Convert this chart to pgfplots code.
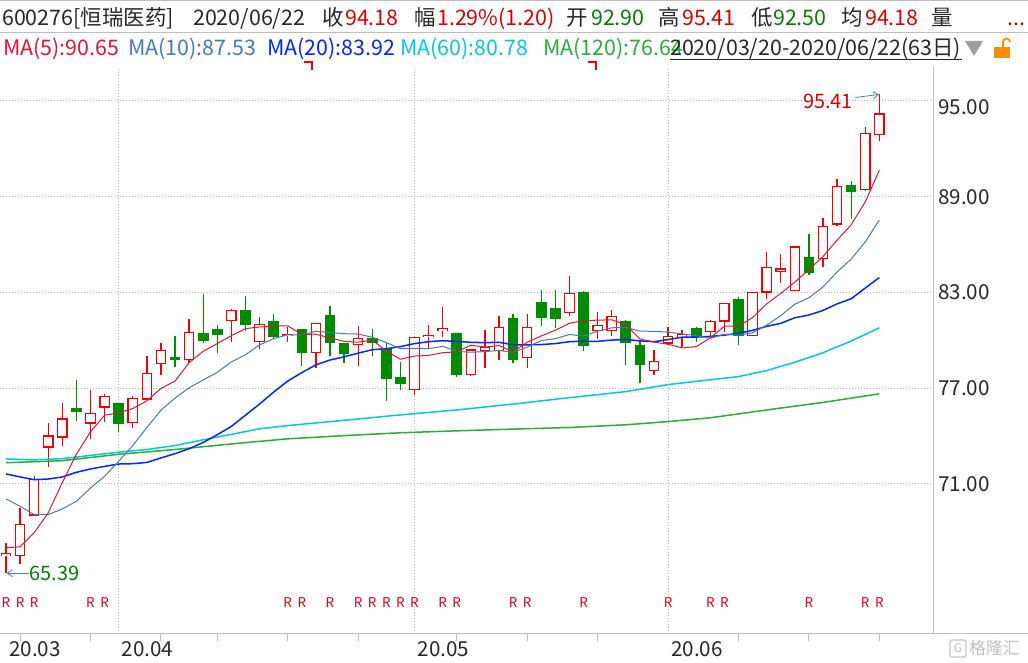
\documentclass[border=0pt]{standalone}
\usepackage{pgfplots}
\pgfplotsset{compat=1.18}
\usepackage{pgfplotstable}
\usepackage{fontspec}
\setmainfont{Noto Sans CJK SC}
\usetikzlibrary{arrows.meta}

\definecolor{cUp}{RGB}{245,0,0}
\definecolor{cDown}{RGB}{0,140,0}
\definecolor{cMAfive}{RGB}{225,20,60}
\definecolor{cMAten}{RGB}{65,125,180}
\definecolor{cMAtwenty}{RGB}{0,40,250}
\definecolor{cMAsixty}{RGB}{0,200,230}
\definecolor{cMAonetwenty}{RGB}{40,175,55}
\definecolor{cAxis}{RGB}{190,190,190}
\definecolor{cGrid}{RGB}{185,185,185}
\definecolor{cText}{RGB}{40,40,40}
\definecolor{cRed}{RGB}{215,0,0}
\definecolor{cGreen}{RGB}{0,128,0}
\definecolor{cArrow}{RGB}{60,140,170}
\definecolor{cR}{RGB}{215,0,20}

\newcommand\hf{\fontsize{21.5}{25}\selectfont}
\newcommand\af{\fontsize{20}{24}\selectfont}
\newcommand\lf{\fontsize{20.7}{24}\selectfont}
\newcommand\rf{\fontsize{13.5}{15}\selectfont}

% rising candles: index, open, high, low, close
\pgfplotstableread{
i O H L C
0 66.49 67.32 65.39 66.63
1 66.49 69.47 65.95 68.43
2 69.05 71.47 69.05 71.26
3 73.31 74.81 72.06 74.00
4 73.93 76.06 73.34 75.06
6 74.81 76.89 73.81 75.43
7 75.81 76.64 74.85 76.47
9 74.85 76.51 74.53 76.37
10 76.31 79.02 76.25 77.93
11 78.56 79.83 77.85 79.37
13 78.77 81.33 78.56 80.50
16 81.25 81.94 79.91 81.87
18 79.94 81.46 79.47 81.00
20 80.29 80.85 79.87 80.37
22 79.25 81.06 78.28 81.06
25 79.75 80.89 78.41 80.12
29 76.93 80.19 76.58 80.19
30 80.22 80.95 79.50 80.31
31 80.60 82.08 80.19 80.72
33 77.87 79.45 77.78 79.39
34 79.37 80.64 78.28 79.56
35 79.35 81.52 78.77 80.81
37 78.91 81.64 78.28 80.81
40 81.75 84.04 81.54 82.94
42 80.62 81.77 80.08 80.94
43 80.62 81.89 80.29 81.50
46 78.12 79.39 77.85 78.68
47 79.83 80.83 79.70 80.25
48 80.22 80.64 79.56 80.37
50 80.56 81.27 80.12 81.19
51 81.21 82.32 80.50 82.32
53 80.31 83.00 80.31 83.00
54 83.02 85.53 82.61 84.57
55 84.34 85.41 83.61 84.47
56 83.13 85.93 83.13 85.85
58 85.14 87.66 84.61 87.14
59 87.29 90.11 87.16 89.65
61 89.46 93.35 89.38 92.98
62 92.90 95.41 92.50 94.18
}\upc

% falling candles
\pgfplotstableread{
i O H L C
5 75.70 77.52 74.91 75.53
8 76.01 76.06 74.22 74.78
12 78.89 80.27 78.35 78.77
14 80.44 82.89 79.81 79.97
15 80.64 80.95 79.22 80.35
17 81.89 82.77 80.58 80.97
19 81.14 81.64 80.12 80.27
21 80.64 80.70 78.41 79.22
23 81.52 82.14 79.03 79.85
24 79.81 79.81 78.58 79.16
26 80.12 80.69 79.03 79.87
27 79.47 79.83 76.22 77.60
28 77.64 78.66 76.91 77.28
32 80.39 80.47 77.68 77.85
36 81.33 81.64 78.60 78.78
38 82.33 83.14 80.91 81.41
39 81.96 83.14 80.75 81.35
41 82.96 83.06 79.35 79.66
44 81.14 81.27 78.45 79.85
45 79.69 79.97 77.35 78.47
49 80.71 80.81 79.91 80.25
52 82.52 82.73 79.70 80.33
57 85.16 86.66 84.09 84.24
60 89.67 89.98 87.62 89.34
}\downc

% moving averages 5, 10, 20
\pgfplotstableread{
i ma5 ma10 ma20
0 66.99 70.05 71.62
1 67.05 69.59 71.43
2 67.93 69.07 71.26
3 69.18 69.07 71.30
4 71.08 69.43 71.43
5 72.86 69.90 71.72
6 74.26 70.74 71.93
7 75.30 71.47 72.09
8 75.45 72.41 72.24
9 75.72 73.40 72.26
10 76.20 74.53 72.34
11 76.98 75.62 72.62
12 77.44 76.37 72.89
13 78.59 77.02 73.20
14 79.31 77.51 73.59
15 79.79 77.99 74.08
16 80.29 78.64 74.60
17 80.73 79.09 75.30
18 80.83 79.71 76.00
19 80.89 80.10 76.75
20 80.90 80.34 77.44
21 80.37 80.33 77.97
22 80.38 80.56 78.46
23 80.15 80.49 78.76
24 79.93 80.41 78.96
25 79.88 80.39 79.19
26 80.01 80.19 79.41
27 79.32 79.85 79.47
28 78.81 79.48 79.60
29 79.01 79.47 79.79
30 79.05 79.47 79.91
31 79.22 79.62 79.97
32 79.27 79.30 79.93
33 79.69 79.25 79.87
34 79.57 79.29 79.85
35 79.67 79.36 79.87
36 79.28 79.25 79.72
37 79.87 79.57 79.71
38 80.27 79.98 79.73
39 80.63 80.10 79.79
40 81.06 80.36 79.91
41 81.23 80.26 79.94
42 81.26 80.57 79.93
43 81.28 80.78 80.01
44 80.98 80.81 80.05
45 80.08 80.57 79.96
46 79.89 80.56 79.91
47 79.75 80.51 80.04
48 79.52 80.40 80.19
49 79.60 80.29 80.20
50 80.15 80.12 80.24
51 80.88 80.38 80.32
52 80.89 80.32 80.44
53 81.42 80.47 80.62
54 82.28 80.94 80.87
55 82.94 81.54 81.06
56 83.64 82.26 81.41
57 84.43 82.66 81.58
58 85.25 83.34 81.87
59 86.27 84.28 82.28
60 87.24 85.09 82.60
61 88.67 86.16 83.27
62 90.66 87.54 83.93
}\ma

\pgfplotstableread{
i v
0 72.56
2 72.50
4 72.58
6 72.78
8 72.98
10 73.15
12 73.40
14 73.76
16 74.10
18 74.45
20 74.65
24 74.98
28 75.32
32 75.63
36 76.00
40 76.40
44 76.78
47 77.22
50 77.52
52 77.72
54 78.10
56 78.62
58 79.22
60 79.95
62 80.78
}\masixty

\pgfplotstableread{
i v
0 72.32
4 72.45
8 72.85
12 73.15
16 73.50
20 73.82
24 74.02
28 74.20
32 74.32
36 74.43
40 74.53
44 74.70
47 74.90
50 75.14
52 75.38
55 75.75
58 76.10
62 76.64
}\maonetwenty

% R markers
\pgfplotstableread{
i y
0 63.53
1 63.53
2 63.53
6 63.53
7 63.53
20 63.53
21 63.53
23 63.53
25 63.53
26 63.53
27 63.53
28 63.53
29 63.53
31 63.53
32 63.53
36 63.53
37 63.53
41 63.53
47 63.53
50 63.53
51 63.53
57 63.53
61 63.53
62 63.53
}\rtab

\pgfplotsset{
  candlebar/.style n args={2}{draw=none, mark=none, forget plot,
    error bars/.cd, y dir=both, y explicit, error mark=none,
    error bar style={solid, line width=#1, draw=#2}},
}

\begin{document}
\begin{tikzpicture}
\path[use as bounding box, fill=white] (0,0) rectangle (1028bp,663bp);
\begin{axis}[
  at={(0bp,29bp)}, anchor=south west,
  scale only axis, width=933bp, height=567bp,
  xmin=-0.426, xmax=65.81, ymin=61.583, ymax=97.132,
  axis x line*=bottom, axis y line*=right,
  axis line style={draw=cAxis, line width=1bp, -},
  xtick={8,29,47}, xticklabels={20.04,20.05,20.06},
  extra x ticks={0}, extra x tick labels={20.03},
  extra x tick style={grid=none},
  minor xtick={1,6,11,15,20,25,32,37,42,52,57,62},
  ytick={71,77,83,89}, yticklabels={71.00,77.00,83.00,89.00},
  extra y ticks={95}, extra y tick labels={95.00},
  extra y tick style={grid=major, yticklabel style={yshift=-6bp}},
  major tick length=0pt, minor tick length=7bp, tick align=outside,
  tick style={draw=cAxis, line width=1bp},
  xmajorgrids, ymajorgrids,
  major grid style={draw=cGrid, line width=1bp, dash pattern=on 1bp off 2bp},
  xticklabel style={anchor=north west, inner sep=0pt, xshift=3bp, yshift=-7.5bp, font=\lf, text=cText},
  yticklabel style={anchor=west, inner sep=0pt, xshift=5bp, font=\lf, text=cText},
]
% wicks
\addplot[candlebar={1.3bp}{cUp}]
  table[x=i, y expr={(\thisrow{H}+\thisrow{L})/2}, y error expr={(\thisrow{H}-\thisrow{L})/2}] {\upc};
\addplot[candlebar={1.3bp}{cDown}]
  table[x=i, y expr={(\thisrow{H}+\thisrow{L})/2}, y error expr={(\thisrow{H}-\thisrow{L})/2}] {\downc};
% rising bodies: red outline, white inside
\addplot[candlebar={10.6bp}{cUp}]
  table[x=i, y expr={(\thisrow{O}+\thisrow{C})/2}, y error expr={(\thisrow{C}-\thisrow{O})/2+0.038}] {\upc};
\addplot[candlebar={8.2bp}{white}]
  table[x=i, y expr={(\thisrow{O}+\thisrow{C})/2}, y error expr={max((\thisrow{C}-\thisrow{O})/2-0.038,0)}] {\upc};
% falling bodies: solid green
\addplot[candlebar={10.6bp}{cDown}]
  table[x=i, y expr={(\thisrow{O}+\thisrow{C})/2}, y error expr={(\thisrow{O}-\thisrow{C})/2+0.038}] {\downc};
% moving averages
\addplot[cMAonetwenty, line width=1.5bp, mark=none] table[x=i, y=v] {\maonetwenty};
\addplot[cMAsixty, line width=1.5bp, mark=none] table[x=i, y=v] {\masixty};
\addplot[cMAtwenty, line width=1.5bp, mark=none] table[x=i, y=ma20] {\ma};
\addplot[cMAten, line width=1bp, mark=none] table[x=i, y=ma10] {\ma};
\addplot[cMAfive, line width=1bp, mark=none] table[x=i, y=ma5] {\ma};
% R markers
\addplot[cR, only marks, mark=text, text mark={R}, text mark as node=true,
  text mark style={font=\rf, inner sep=0pt, text=cR}] table[x=i, y=y] {\rtab};
% annotations
\node[anchor=east, inner sep=0pt, text=cRed, font=\af] at (axis cs:60.13,95.0) {95.41};
\draw[cArrow, line width=0.8bp, -{Straight Barb[length=5bp, width=7bp]}] (axis cs:60.3,95.22) -- (axis cs:61.97,95.41);
\node[anchor=west, inner sep=0pt, text=cGreen, font=\af] at (axis cs:1.68,65.39) {65.39};
\draw[cArrow, line width=0.8bp, -{Straight Barb[length=5bp, width=7bp]}] (axis cs:1.63,65.39) -- (axis cs:0.05,65.39);
% month separators below the axis
\draw[cAxis, line width=1bp] (axis cs:0,61.583) -- ++(0,-29bp);
\draw[cAxis, line width=1bp] (axis cs:8,61.583) -- ++(0,-29bp);
\draw[cAxis, line width=1bp] (axis cs:29,61.583) -- ++(0,-29bp);
\draw[cAxis, line width=1bp] (axis cs:47,61.583) -- ++(0,-29bp);
\end{axis}

\begin{scope}[yshift=663bp, x=1bp, y=-1bp]
\draw[cAxis, line width=1bp] (0,0.5) -- (1028,0.5);
\draw[cAxis, line width=1bp] (0,33) -- (1028,33);
\draw[cAxis, line width=1bp] (933,634) -- (1028,634);
% row 1
\node[anchor=base west, inner sep=0pt, text=cText, font=\hf] at (2,26) {600276[恒瑞医药]};
\node[anchor=base west, inner sep=0pt, text=cText, font=\hf] at (193,26) {2020/06/22};
\node[anchor=base west, inner sep=0pt, text=cText, font=\hf] at (322,26) {收};
\node[anchor=base west, inner sep=0pt, text=cRed, font=\hf] at (345,26) {94.18};
\node[anchor=base west, inner sep=0pt, text=cText, font=\hf] at (414,26) {幅};
\node[anchor=base west, inner sep=0pt, text=cRed, font=\hf] at (437,26) {1.29\%(1.20)};
\node[anchor=base west, inner sep=0pt, text=cText, font=\hf] at (566,26) {开};
\node[anchor=base west, inner sep=0pt, text=cGreen, font=\hf] at (591,26) {92.90};
\node[anchor=base west, inner sep=0pt, text=cText, font=\hf] at (658,26) {高};
\node[anchor=base west, inner sep=0pt, text=cRed, font=\hf] at (682,26) {95.41};
\node[anchor=base west, inner sep=0pt, text=cText, font=\hf] at (751,26) {低};
\node[anchor=base west, inner sep=0pt, text=cGreen, font=\hf] at (773,26) {92.50};
\node[anchor=base west, inner sep=0pt, text=cText, font=\hf] at (841,26) {均};
\node[anchor=base west, inner sep=0pt, text=cRed, font=\hf] at (865,26) {94.18};
\node[anchor=base west, inner sep=0pt, text=cText, font=\hf] at (931,26) {量};
\node[anchor=base west, inner sep=0pt, text=cRed, font=\hf] at (1007,26) {...};
% row 2
\node[anchor=base west, inner sep=0pt, text=cMAfive, font=\hf] at (3,56) {MA(5):90.65};
\node[anchor=base west, inner sep=0pt, text=cMAten, font=\hf] at (128,56) {MA(10):87.53};
\node[anchor=base west, inner sep=0pt, text=cMAtwenty, font=\hf] at (267,56) {MA(20):83.92};
\node[anchor=base west, inner sep=0pt, text=cMAsixty, font=\hf] at (400,56) {MA(60):80.78};
\node[anchor=base west, inner sep=0pt, text=cMAonetwenty, font=\hf] at (543,56) {MA(120):76.64};
\node[anchor=base west, inner sep=0pt, text=cText, font=\hf] at (670,56) {2020/03/20-2020/06/22(63日)};
\draw[cText, line width=1bp] (670,59.5) -- (962,59.5);
\fill[gray!75] (965,41) -- (983,41) -- (974,56) -- cycle;
\fill[orange!90!yellow] (994,47) rectangle (1010,58);
\draw[orange!90!yellow, line width=1.8bp] (1003,47) -- (1003,42) arc[start angle=180, end angle=0, x radius=3.5, y radius=-3.5];
% top markers
\draw[cUp, line width=2bp] (304,62) -- (312,62) -- (312,70);
\draw[cUp, line width=2bp] (588,62) -- (596,62) -- (596,70);
% watermark
\draw[gray!45, line width=1.2bp, rounded corners=2bp] (950,640) rectangle (966,657);
\node[text=gray!50, font=\fontsize{12}{12}\selectfont, inner sep=0pt] at (958,648.5) {G};
\node[anchor=west, text=gray!50, font=\fontsize{17}{17}\selectfont, inner sep=0pt] at (969,648.5) {格隆汇};
\end{scope}
\end{tikzpicture}
\end{document}
